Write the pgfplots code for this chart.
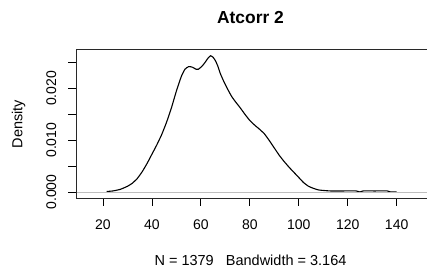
\documentclass[border=0pt]{standalone}
\usepackage{pgfplots}
\pgfplotsset{compat=1.18}
\usepackage{fontspec}
\setmainfont{Liberation Sans}
\begin{document}
\begin{tikzpicture}
\begin{axis}[
  scale only axis, width=351bp, height=148bp,
  xmin=8.97, xmax=152.4, ymin=-0.00116, ymax=0.02741,
  axis line style={draw=none},
  xtick={20,40,60,80,100,120,140},
  ytick={0,0.005,0.01,0.015,0.02,0.025},
  yticklabels={0.000,,0.010,,0.020,},
  scaled y ticks=false,
  tick align=outside, xtick pos=bottom, ytick pos=left,
  major tick length=7.5bp,
  tick style={black, line width=0.8bp},
  /pgf/number format/assume math mode=true,
  xticklabel style={font=\fontsize{14bp}{16bp}\selectfont, anchor=north, inner sep=0pt, yshift=-14bp},
  yticklabel style={font=\fontsize{14bp}{16bp}\selectfont, rotate=90, anchor=south, inner sep=0pt, yshift=12bp},
]
\addplot[black, line width=1.1bp, smooth, tension=0.3] coordinates {
(21.5,0.0001)(24,0.0002)(27,0.0005)(30,0.0011)(32,0.0017)(34,0.0026)(36,0.0039)(38,0.0055)
(40,0.0073)(42,0.0091)(44,0.0111)(46,0.0135)(48,0.0163)(50,0.0195)(52,0.0223)(53.5,0.0237)
(55,0.0242)(56.5,0.0241)(58,0.0237)(59,0.0237)(60.5,0.0243)(62,0.0252)(63,0.0259)(64,0.0263)
(65,0.0260)(66,0.0253)(67,0.0242)(68,0.0228)(69.5,0.0212)(71,0.0198)(72.5,0.0185)(74,0.0175)
(76,0.0163)(78,0.0150)(80,0.0138)(82,0.0129)(84,0.0121)(86,0.0112)(88,0.0099)(90,0.0085)
(92,0.0071)(94,0.0059)(96,0.0048)(98,0.0038)(100,0.0028)(102,0.0018)(104,0.0011)(106,0.0007)
(108,0.0004)(110,0.0003)(113,0.0002)(118,0.0002)(123.5,0.0002)(125,0)(126.3,0.0002)(131,0.0002)
(136.2,0.0002)(137.5,0)(140,0)
};
\addplot[color={rgb,255:red,190;green,190;blue,190}, line width=0.9bp] coordinates {(8.97,0) (152.4,0)};
\coordinate (bl) at (rel axis cs:0,0);
\coordinate (tr) at (rel axis cs:1,1);
\end{axis}
\draw[line width=1bp, color={rgb,255:red,40;green,40;blue,40}] (tr) -- (tr -| bl) -- (bl) -- (bl -| tr);
\node[anchor=base, font=\bfseries\fontsize{17.4bp}{20bp}\selectfont] at ([xshift=174.5bp,yshift=174bp]bl) {Atcorr 2};
\node[anchor=base, font=\fontsize{14.5bp}{16bp}\selectfont] at ([xshift=174.5bp,yshift=-67bp]bl) {N = 1379\ \ \ Bandwidth = 3.164};
\node[rotate=90, anchor=base, font=\fontsize{14.5bp}{16bp}\selectfont] at ([xshift=-53.5bp,yshift=74bp]bl) {Density};
\pgfresetboundingbox
\path[use as bounding box] ([xshift=-76bp,yshift=-70bp]bl) rectangle ([yshift=50bp]tr);
\end{tikzpicture}
\end{document}
